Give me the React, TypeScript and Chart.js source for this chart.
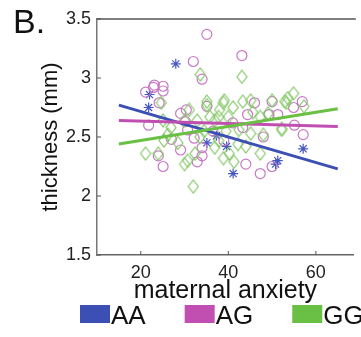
import React, { useEffect, useRef } from "react";
import { Chart, registerables } from "chart.js";

Chart.register(...registerables);

const groupNames = ["AA", "AG", "GG"];
const lineColors = ["#3b4fb4", "#c14fb2", "#6abf45"];
const markerColors = ["#4557c0", "#c878c6", "#86c86a"];

const aaPoints: [number, number][] = [
  [28, 3.12], [22, 2.86], [21.8, 2.75], [57.1, 2.4], [51.3, 2.3], [50.8, 2.27],
  [41.1, 2.19], [35.1, 2.45], [39.6, 2.42], [37.3, 2.51],
];

const agPoints: [number, number][] = [
  [35.1, 3.37], [32, 3.14], [43.1, 3.19], [34, 2.99], [23.1, 2.94], [25.1, 2.93],
  [25.1, 2.89], [21.1, 2.88], [24.2, 2.79], [21.8, 2.6], [35.1, 2.76], [30.4, 2.73],
  [46, 2.79], [50, 2.8], [56.9, 2.8], [54.9, 2.75], [44.4, 2.69], [49.3, 2.69],
  [51.3, 2.69], [55.1, 2.6], [43.3, 2.58], [57.1, 2.52], [47.3, 2.19], [50, 2.25],
  [44, 2.27], [34, 2.34], [34, 2.41], [32.2, 2.49], [25.1, 2.25], [29.1, 2.39],
  [24, 2.34], [32.9, 2.29], [30.7, 2.56], [29.1, 2.7], [30.2, 2.63], [48, 2.5],
  [36.5, 2.55], [39, 2.47], [41, 2.62], [27, 2.48], [22.9, 2.92],
];

const ggPoints: [number, number][] = [
  [33.6, 3.03], [43.1, 3.01], [35.1, 2.8], [39.1, 2.81], [43.3, 2.8], [45.1, 2.81],
  [50, 2.81], [53.3, 2.79], [54.9, 2.87], [53.6, 2.83], [52.9, 2.8], [57.3, 2.76],
  [52.2, 2.57], [49.1, 2.7], [38, 2.73], [41.1, 2.75], [35.8, 2.67], [36.9, 2.64],
  [40, 2.67], [45.6, 2.71], [47.3, 2.67], [35.1, 2.77], [31.1, 2.73], [24.7, 2.79],
  [25.1, 2.64], [26.9, 2.58], [30, 2.64], [32.9, 2.64], [38.9, 2.79], [37.8, 2.67],
  [21.1, 2.36], [24, 2.36], [32, 2.08], [30, 2.27], [30.7, 2.3], [32.4, 2.36],
  [25.3, 2.47], [26.2, 2.52], [37.8, 2.47], [36.9, 2.41], [42.2, 2.44], [44, 2.42],
  [47.3, 2.36], [48, 2.52], [52.2, 2.56], [40.2, 2.36], [41.3, 2.29], [38.9, 2.32],
  [45.1, 2.53], [42.4, 2.56], [34.5, 2.55], [39.5, 2.55], [28.5, 2.45], [33.5, 2.5],
];

const fitX = [15, 65];
const aaFit = [2.77, 2.23];
const agFit = [2.64, 2.59];
const ggFit = [2.44, 2.74];

const xTicks = [20, 40, 60];
const yTicks = [1.5, 2, 2.5, 3, 3.5];

const FONT = "'Liberation Sans', Arial, Helvetica, sans-serif";

const toXY = (pts: [number, number][]) => pts.map(([x, y]) => ({ x, y }));
const fitXY = (ys: number[]) => fitX.map((x, i) => ({ x, y: ys[i] }));

function makeDiamond(color: string) {
  const c = document.createElement("canvas");
  const w = 12;
  const h = 15;
  c.width = w;
  c.height = h;
  const g = c.getContext("2d")!;
  g.strokeStyle = color;
  g.lineWidth = 1.2;
  g.beginPath();
  g.moveTo(w / 2, 1);
  g.lineTo(w - 1, h / 2);
  g.lineTo(w / 2, h - 1);
  g.lineTo(1, h / 2);
  g.closePath();
  g.stroke();
  return c;
}

const decorPlugin = {
  id: "decor",
  afterDraw(chart: any) {
    const { ctx, chartArea, scales } = chart;
    const xs = scales.x;
    const ys = scales.y;
    ctx.save();
    ctx.strokeStyle = "#555";
    ctx.lineWidth = 1.5;
    ctx.beginPath();
    ctx.moveTo(chartArea.left, chartArea.top);
    ctx.lineTo(chartArea.right + 2, chartArea.top);
    ctx.stroke();
    ctx.lineWidth = 1;
    ctx.strokeStyle = "#555";
    yTicks.forEach((v) => {
      const py = ys.getPixelForValue(v);
      ctx.beginPath();
      ctx.moveTo(chartArea.left, py);
      ctx.lineTo(chartArea.left + 4, py);
      ctx.stroke();
    });
    xTicks.forEach((v) => {
      const px = xs.getPixelForValue(v);
      ctx.beginPath();
      ctx.moveTo(px, chartArea.bottom);
      ctx.lineTo(px, chartArea.bottom - 4);
      ctx.stroke();
    });
    ctx.fillStyle = "#111";
    ctx.font = `34px ${FONT}`;
    ctx.textAlign = "left";
    ctx.textBaseline = "alphabetic";
    ctx.fillText("B.", 13, 33);
    ctx.font = `26px ${FONT}`;
    let lx = 80;
    const boxTop = 305;
    groupNames.forEach((name, i) => {
      ctx.fillStyle = lineColors[i];
      ctx.fillRect(lx, boxTop, 30, 18);
      ctx.fillStyle = "#111";
      ctx.fillText(name, lx + 31, boxTop + 18.5);
      lx += 30 + ctx.measureText(name).width + 40;
    });
    ctx.restore();
  },
};

export default function App() {
  const ref = useRef<HTMLCanvasElement | null>(null);

  useEffect(() => {
    document.body.style.margin = "0";
    if (!ref.current) return;
    const diamond = makeDiamond(markerColors[2]);
    const scatterStyle = (i: number, style: any, radius: number) => ({
      pointStyle: style,
      pointRadius: radius,
      pointBorderColor: markerColors[i],
      pointBackgroundColor: "rgba(0,0,0,0)",
      pointBorderWidth: 1.2,
      showLine: false,
    });
    const lineStyle = (i: number) => ({
      borderColor: lineColors[i],
      borderWidth: 3,
      pointRadius: 0,
      showLine: true,
      fill: false,
    });
    const tickFmt = (v: any) => String(Number(v));
    const chart = new Chart(ref.current, {
      type: "scatter",
      data: {
        datasets: [
          { label: groupNames[0] + " fit", data: fitXY(aaFit), order: 2, ...lineStyle(0) },
          { label: groupNames[1] + " fit", data: fitXY(agFit), order: 1, ...lineStyle(1) },
          { label: groupNames[2] + " fit", data: fitXY(ggFit), order: 0, ...lineStyle(2) },
          { label: groupNames[0], data: toXY(aaPoints), order: 5, ...scatterStyle(0, "star", 5) },
          { label: groupNames[1], data: toXY(agPoints), order: 4, ...scatterStyle(1, "circle", 5) },
          { label: groupNames[2], data: toXY(ggPoints), order: 3, ...scatterStyle(2, diamond, 6) },
        ] as any,
      },
      options: {
        animation: false,
        responsive: false,
        devicePixelRatio: 1,
        layout: { padding: { top: 19, right: 0, left: 0, bottom: 0 } },
        plugins: {
          legend: { display: false },
          tooltip: { enabled: false },
        },
        scales: {
          x: {
            type: "linear",
            min: 10,
            max: 68.67,
            afterBuildTicks: (s: any) => {
              s.ticks = xTicks.map((v) => ({ value: v }));
            },
            afterFit: (s: any) => {
              s.height = 82;
            },
            grid: { display: false, drawTicks: false },
            border: { display: true, color: "#666", width: 1.5 },
            ticks: { font: { size: 18, family: FONT }, color: "#222", padding: 7, callback: tickFmt },
            title: {
              display: true,
              text: "maternal anxiety",
              font: { size: 25, family: FONT },
              color: "#111",
              padding: { top: 0, bottom: 31 },
            },
          },
          y: {
            type: "linear",
            min: 1.5,
            max: 3.5,
            afterBuildTicks: (s: any) => {
              s.ticks = yTicks.map((v) => ({ value: v }));
            },
            afterFit: (s: any) => {
              s.width = 97;
            },
            grid: { display: false, drawTicks: false },
            border: { display: true, color: "#777", width: 1.5 },
            ticks: { font: { size: 18, family: FONT }, color: "#222", padding: 6, callback: tickFmt },
            title: {
              display: true,
              text: "thickness (mm)",
              font: { size: 22, family: FONT },
              color: "#111",
              padding: { top: 38, bottom: 0 },
            },
          },
        },
      },
      plugins: [decorPlugin],
    } as any);
    return () => chart.destroy();
  }, []);

  return (
    <div style={{ width: 361, height: 337 }}>
      <canvas ref={ref} width={361} height={337} style={{ display: "block" }} />
    </div>
  );
}
